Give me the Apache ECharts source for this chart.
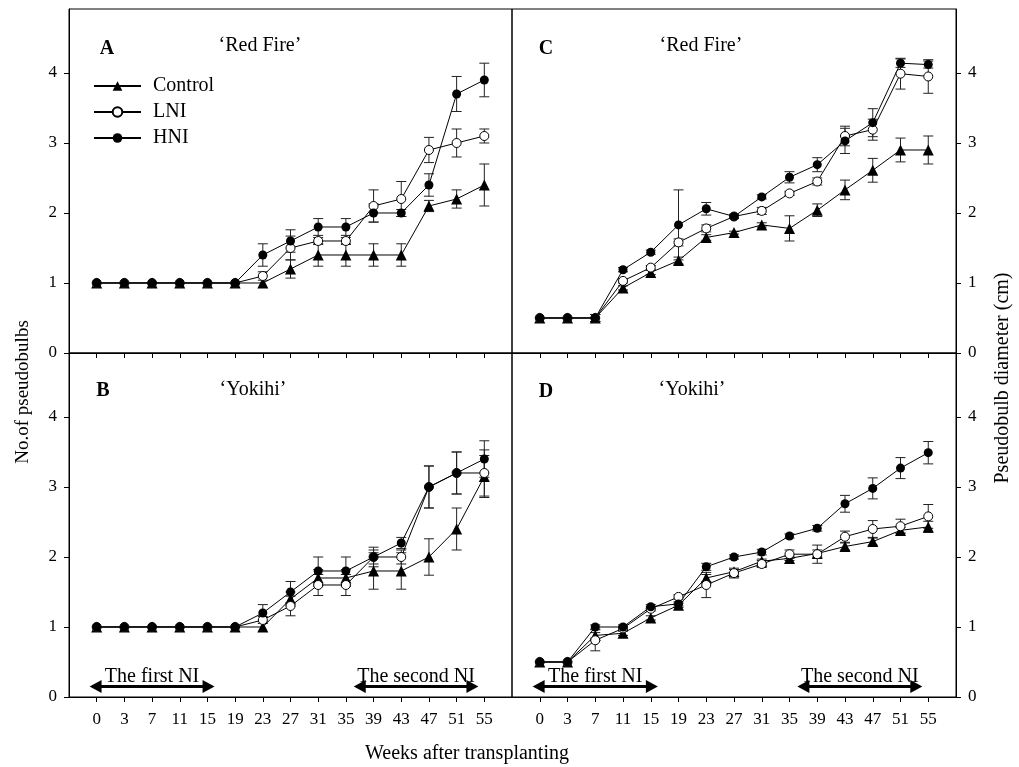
<!DOCTYPE html>
<html>
<head>
<meta charset="utf-8">
<script src="https://cdn.jsdelivr.net/npm/echarts@6/dist/echarts.min.js"></script>
<style>
  html, body { margin: 0; padding: 0; background: #fff; }
  #chart { width: 1019px; height: 767px; }
</style>
</head>
<body>
<div id="chart"></div>
<script>
// Sampling weeks after transplanting (equally spaced on the axis)
const weeks = ['0', '3', '7', '11', '15', '19', '23', '27', '31', '35', '39', '43', '47', '51', '55'];
const yTicks = [0, 1, 2, 3, 4];

// A: number of pseudobulbs, 'Red Fire'
const aControl   = [1, 1, 1, 1, 1, 1, 1, 1.2, 1.4, 1.4, 1.4, 1.4, 2.1, 2.2, 2.4];
const aControlSE = [0, 0, 0, 0, 0, 0, 0, 0.13, 0.16, 0.16, 0.16, 0.16, 0.08, 0.13, 0.3];
const aLNI       = [1, 1, 1, 1, 1, 1, 1.1, 1.5, 1.6, 1.6, 2.1, 2.2, 2.9, 3.0, 3.1];
const aLNISE     = [0, 0, 0, 0, 0, 0, 0.06, 0.17, 0.05, 0.05, 0.23, 0.25, 0.18, 0.2, 0.1];
const aHNI       = [1, 1, 1, 1, 1, 1, 1.4, 1.6, 1.8, 1.8, 2.0, 2.0, 2.4, 3.7, 3.9];
const aHNISE     = [0, 0, 0, 0, 0, 0, 0.16, 0.16, 0.12, 0.12, 0.13, 0.05, 0.16, 0.25, 0.24];

// B: number of pseudobulbs, 'Yokihi'
const bControl   = [1, 1, 1, 1, 1, 1, 1, 1.4, 1.7, 1.7, 1.8, 1.8, 2.0, 2.4, 3.15];
const bControlSE = [0, 0, 0, 0, 0, 0, 0, 0.1, 0.12, 0.12, 0.26, 0.26, 0.26, 0.3, 0.3];
const bLNI       = [1, 1, 1, 1, 1, 1, 1.1, 1.3, 1.6, 1.6, 2.0, 2.0, 3.0, 3.2, 3.2];
const bLNISE     = [0, 0, 0, 0, 0, 0, 0.05, 0.14, 0.15, 0.15, 0.1, 0.1, 0.3, 0.3, 0.33];
const bHNI       = [1, 1, 1, 1, 1, 1, 1.2, 1.5, 1.8, 1.8, 2.0, 2.2, 3.0, 3.2, 3.4];
const bHNISE     = [0, 0, 0, 0, 0, 0, 0.12, 0.15, 0.2, 0.2, 0.14, 0.08, 0.3, 0.3, 0.26];

// C: pseudobulb diameter (cm), 'Red Fire'
const cControl   = [0.5, 0.5, 0.5, 0.93, 1.15, 1.32, 1.65, 1.72, 1.83, 1.78, 2.04, 2.33, 2.61, 2.9, 2.9];
const cControlSE = [0, 0, 0.05, 0.03, 0.03, 0.05, 0.04, 0.02, 0.03, 0.18, 0.09, 0.14, 0.17, 0.17, 0.2];
const cLNI       = [0.5, 0.5, 0.5, 1.03, 1.22, 1.58, 1.78, 1.95, 2.03, 2.28, 2.45, 3.1, 3.19, 3.99, 3.95];
const cLNISE     = [0, 0, 0.05, 0.03, 0.03, 0.05, 0.05, 0.03, 0.05, 0.03, 0.05, 0.14, 0.15, 0.22, 0.24];
const cHNI       = [0.5, 0.5, 0.5, 1.19, 1.44, 1.83, 2.06, 1.95, 2.23, 2.51, 2.69, 3.03, 3.29, 4.14, 4.12];
const cHNISE     = [0, 0, 0.05, 0.03, 0.03, 0.5, 0.09, 0.03, 0.03, 0.08, 0.1, 0.18, 0.2, 0.06, 0.05];

// D: pseudobulb diameter (cm), 'Yokihi'
const dControl   = [0.5, 0.5, 0.88, 0.91, 1.13, 1.31, 1.7, 1.79, 1.94, 1.98, 2.05, 2.15, 2.22, 2.38, 2.43];
const dControlSE = [0, 0, 0.04, 0.03, 0.03, 0.03, 0.05, 0.03, 0.03, 0.03, 0.05, 0.05, 0.05, 0.04, 0.08];
const dLNI       = [0.5, 0.5, 0.81, 0.98, 1.26, 1.43, 1.6, 1.77, 1.9, 2.04, 2.04, 2.29, 2.4, 2.44, 2.58];
const dLNISE     = [0, 0, 0.15, 0.03, 0.03, 0.03, 0.18, 0.07, 0.05, 0.06, 0.13, 0.08, 0.12, 0.1, 0.17];
const dHNI       = [0.5, 0.5, 1.0, 1.0, 1.29, 1.33, 1.86, 2.0, 2.07, 2.3, 2.41, 2.76, 2.98, 3.27, 3.49];
const dHNISE     = [0, 0, 0.03, 0.03, 0.03, 0.03, 0.05, 0.03, 0.04, 0.03, 0.04, 0.12, 0.15, 0.15, 0.16];

// Night-interruption periods (in week-index units) and their level on the y scale
const niLabels = ['The first NI', 'The second NI'];
const niFrom   = [-0.04, 9.5];
const niTo     = [4.04, 13.57];
const niLevel  = 0.15;

const FONT = '"Liberation Serif", "Times New Roman", serif';
const BLACK = '#000';
const weekIdx = weeks.map((w, i) => i);

const grids = [
  { left: 69,  top: 9,   width: 443, height: 344 },  // A
  { left: 69,  top: 353, width: 443, height: 344 },  // B
  { left: 512, top: 9,   width: 444, height: 344 },  // C
  { left: 512, top: 353, width: 444, height: 344 }   // D
].map(g => Object.assign(g, { show: true, borderColor: BLACK, borderWidth: 1, backgroundColor: 'transparent' }));

function xAxisFor(g, withLabels) {
  return {
    type: 'value', gridIndex: g, min: -1, max: 15, interval: 1, position: 'bottom',
    axisLine: { show: true, onZero: false, lineStyle: { color: BLACK, width: 1 } },
    axisTick: { show: true, customValues: weekIdx, length: 5, inside: false, lineStyle: { color: BLACK } },
    axisLabel: {
      show: withLabels, customValues: weekIdx, margin: 14,
      formatter: v => weeks[v] !== undefined ? weeks[v] : '',
      fontFamily: FONT, fontSize: 17, color: BLACK
    },
    splitLine: { show: false }
  };
}

function yAxisFor(g, side) {
  return {
    type: 'value', gridIndex: g, min: 0, max: 4.914, position: side,
    axisLine: { show: true, onZero: false, lineStyle: { color: BLACK, width: 1 } },
    axisTick: { show: true, customValues: yTicks, length: 5, inside: false, lineStyle: { color: BLACK } },
    axisLabel: { show: true, customValues: yTicks, margin: 12, fontFamily: FONT, fontSize: 17, color: BLACK },
    splitLine: { show: false }
  };
}

const styles = {
  Control: { symbol: 'triangle', symbolSize: 11, itemStyle: { color: BLACK, borderColor: BLACK, borderWidth: 0 } },
  LNI:     { symbol: 'circle',   symbolSize: 9,  itemStyle: { color: '#fff', borderColor: BLACK, borderWidth: 1 } },
  HNI:     { symbol: 'circle',   symbolSize: 9,  itemStyle: { color: BLACK, borderColor: BLACK, borderWidth: 0 } }
};

function lineSeries(name, g, values) {
  const st = styles[name];
  return {
    type: 'line', name: name, xAxisIndex: g, yAxisIndex: g, z: 3,
    data: values.map((v, i) => [i, v]),
    symbol: st.symbol, symbolSize: st.symbolSize, showSymbol: true, showAllSymbol: true,
    itemStyle: st.itemStyle,
    lineStyle: { color: BLACK, width: 1 },
    emphasis: { disabled: true }
  };
}

function errorSeries(g, values, se) {
  return {
    type: 'custom', xAxisIndex: g, yAxisIndex: g, z: 2, silent: true,
    encode: { x: 0, y: 1 },
    data: values.map((v, i) => [i, v, se[i]]),
    renderItem: function (params, api) {
      const x = api.value(0), y = api.value(1), e = api.value(2);
      if (!e) return { type: 'group', children: [] };
      const top = api.coord([x, y + e]);
      const bot = api.coord([x, y - e]);
      const hw = 5;
      const st = { stroke: '#222', lineWidth: 1 };
      return {
        type: 'group',
        children: [
          { type: 'line', shape: { x1: top[0], y1: top[1], x2: bot[0], y2: bot[1] }, style: st },
          { type: 'line', shape: { x1: top[0] - hw, y1: top[1], x2: top[0] + hw, y2: top[1] }, style: st },
          { type: 'line', shape: { x1: bot[0] - hw, y1: bot[1], x2: bot[0] + hw, y2: bot[1] }, style: st }
        ]
      };
    }
  };
}

function niSeries(g) {
  return {
    type: 'line', xAxisIndex: g, yAxisIndex: g, data: [], silent: true,
    markLine: {
      silent: true, animation: false,
      symbol: ['triangle', 'triangle'], symbolSize: [13, 12],
      lineStyle: { color: BLACK, width: 3, type: 'solid' },
      label: {
        show: true, position: 'insideMiddleTop', distance: 0, formatter: '{b}',
        fontFamily: FONT, fontSize: 20, color: BLACK
      },
      emphasis: { disabled: true },
      data: niLabels.map((lab, i) => [
        { name: lab, coord: [niFrom[i], niLevel] },
        { coord: [niTo[i], niLevel] }
      ])
    }
  };
}

const panels = [
  { c: aControl, cse: aControlSE, l: aLNI, lse: aLNISE, h: aHNI, hse: aHNISE },
  { c: bControl, cse: bControlSE, l: bLNI, lse: bLNISE, h: bHNI, hse: bHNISE },
  { c: cControl, cse: cControlSE, l: cLNI, lse: cLNISE, h: cHNI, hse: cHNISE },
  { c: dControl, cse: dControlSE, l: dLNI, lse: dLNISE, h: dHNI, hse: dHNISE }
];

const series = [];
panels.forEach((p, g) => {
  series.push(errorSeries(g, p.c, p.cse));
  series.push(errorSeries(g, p.l, p.lse));
  series.push(errorSeries(g, p.h, p.hse));
  series.push(lineSeries('Control', g, p.c));
  series.push(lineSeries('LNI', g, p.l));
  series.push(lineSeries('HNI', g, p.h));
});
series.push(niSeries(1));
series.push(niSeries(3));

function txt(text, x, y, opts) {
  return Object.assign({
    type: 'text', silent: true, x: x, y: y,
    style: Object.assign({
      text: text, fill: BLACK, font: '20px ' + FONT, align: 'center', verticalAlign: 'middle'
    }, (opts && opts.style) || {})
  }, opts && opts.rotation !== undefined ? { rotation: opts.rotation } : {});
}

const option = {
  animation: false,
  backgroundColor: '#fff',
  grid: grids,
  xAxis: [xAxisFor(0, false), xAxisFor(1, true), xAxisFor(2, false), xAxisFor(3, true)],
  yAxis: [yAxisFor(0, 'left'), yAxisFor(1, 'left'), yAxisFor(2, 'right'), yAxisFor(3, 'right')],
  legend: {
    data: ['Control', 'LNI', 'HNI'],
    orient: 'vertical', left: 93, top: 76, padding: 0,
    itemWidth: 47, itemHeight: 12, itemGap: 6,
    selectedMode: false,
    textStyle: { fontFamily: FONT, fontSize: 20, color: BLACK, padding: [0, 0, 0, 7], lineHeight: 20 }
  },
  graphic: [
    txt('A', 107, 49, { style: { font: 'bold 20px ' + FONT } }),
    txt('\u2018Red Fire\u2019', 260, 46),
    txt('B', 103, 391, { style: { font: 'bold 20px ' + FONT } }),
    txt('\u2018Yokihi\u2019', 253, 390),
    txt('C', 546, 49, { style: { font: 'bold 20px ' + FONT } }),
    txt('\u2018Red Fire\u2019', 701, 46),
    txt('D', 546, 392, { style: { font: 'bold 20px ' + FONT } }),
    txt('\u2018Yokihi\u2019', 692, 390),
    txt('No.of pseudobulbs', 23, 392, { rotation: Math.PI / 2, style: { font: '19px ' + FONT } }),
    txt('Pseudobulb diameter (cm)', 1003, 378, { rotation: Math.PI / 2 }),
    txt('Weeks after transplanting', 467, 754)
  ],
  series: series
};

const chart = echarts.init(document.getElementById('chart'), null, { renderer: 'canvas' });
chart.setOption(option);
</script>
</body>
</html>
